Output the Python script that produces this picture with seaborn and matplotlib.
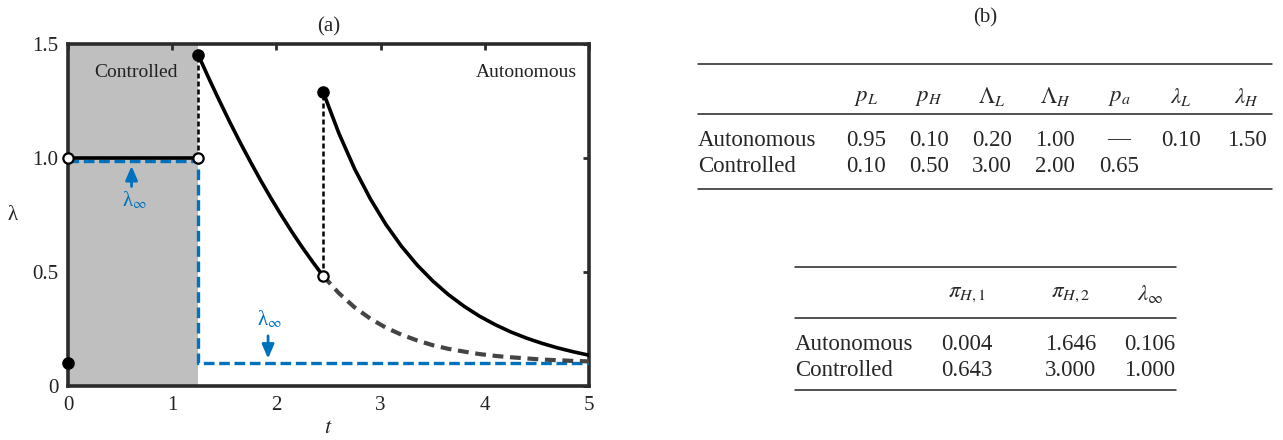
import matplotlib
matplotlib.use("Agg")
import matplotlib.pyplot as plt
import pandas as pd
import seaborn as sns

sns.set_theme(style="white")
plt.rcParams["font.family"] = ["Liberation Serif", "DejaVu Serif"]
plt.rcParams["mathtext.fontset"] = "stix"

# ---------------- data ----------------
t_switch = [1.25, 2.45]
t_ctrl = [0.0, 1.25]
lam_ctrl = [1.0, 1.0]
t_seg1 = [1.25, 1.35, 1.45, 1.55, 1.65, 1.75, 1.85, 1.95, 2.05, 2.15, 2.25, 2.35, 2.45]
lam_seg1 = [1.452, 1.351, 1.254, 1.160, 1.070, 0.984, 0.901, 0.822, 0.747, 0.675, 0.607, 0.543, 0.482]
t_seg2 = [2.45, 2.60, 2.75, 2.90, 3.05, 3.20, 3.35, 3.50, 3.65, 3.80, 3.95, 4.10, 4.25, 4.40, 4.55, 4.70, 4.85, 5.00]
lam_seg2 = [1.288, 1.108, 0.953, 0.822, 0.709, 0.613, 0.531, 0.461, 0.401, 0.350, 0.306, 0.269, 0.237, 0.210, 0.187, 0.167, 0.150, 0.135]
lam_cont = [0.482, 0.407, 0.345, 0.296, 0.256, 0.225, 0.200, 0.179, 0.163, 0.151, 0.140, 0.132, 0.126, 0.121, 0.116, 0.113, 0.110, 0.108]
t_inf = [0.0, 1.25, 1.25, 5.0]
lam_inf = [0.985, 0.985, 0.1, 0.1]
filled_t = [0.0, 1.25, 2.45]
filled_lam = [0.1, 1.452, 1.288]
open_t = [0.0, 1.25, 2.45]
open_lam = [1.0, 1.0, 0.482]
jump_lo = [1.0, 0.482]
jump_hi = [1.452, 1.288]

x_ticks = [0, 1, 2, 3, 4, 5]
y_ticks = [0, 0.5, 1.0, 1.5]
y_ticklabels = ["0", "0.5", "1.0", "1.5"]

tab1_cols = ["$p_L$", "$p_H$", r"$\Lambda_L$", r"$\Lambda_H$", "$p_a$", r"$\lambda_L$", r"$\lambda_H$"]
tab1_rows = ["Autonomous", "Controlled"]
tab1_vals = [["0.95", "0.10", "0.20", "1.00", "—", "0.10", "1.50"],
             ["0.10", "0.50", "3.00", "2.00", "0.65", "", ""]]
tab2_cols = [r"$\pi_{H,1}$", r"$\pi_{H,2}$", r"$\lambda_\infty$"]
tab2_rows = ["Autonomous", "Controlled"]
tab2_vals = [["0.004", "1.646", "0.106"],
             ["0.643", "3.000", "1.000"]]

BLUE = "#0072BD"
DARK = "#2b2b2b"

fig = plt.figure(figsize=(12.83, 4.40), dpi=100)
ax = fig.add_axes([68 / 1283, 54 / 440, 521 / 1283, 342 / 440])

ax.axvspan(t_ctrl[0], t_ctrl[1], color="#bfbfbf", lw=0, zorder=0)

def line(x, y, **kw):
    df = pd.DataFrame({"t": x, "lam": y})
    sns.lineplot(data=df, x="t", y="lam", ax=ax, sort=False, estimator=None, **kw)

# blue lambda_inf
line(t_inf, lam_inf, color=BLUE, lw=2.4, zorder=3)
ax.lines[-1].set_dashes([3.2, 1.4])
# dashed continuation
line(t_seg2, lam_cont, color="#444444", lw=3.0, zorder=3)
ax.lines[-1].set_dashes([2.6, 1.6])
# jump verticals
for ts, lo, hi in zip(t_switch, jump_lo, jump_hi):
    line([ts, ts], [lo, hi], color="black", lw=1.8, zorder=3)
    ax.lines[-1].set_dashes([2.0, 1.2])
# solid curves
line(t_ctrl, lam_ctrl, color="black", lw=2.6, zorder=4)
line(t_seg1, lam_seg1, color="black", lw=2.6, zorder=4)
line(t_seg2, lam_seg2, color="black", lw=2.6, zorder=4)

sns.scatterplot(x=filled_t, y=filled_lam, ax=ax, color="black", s=65, edgecolor="black",
                linewidth=1, zorder=6, clip_on=False)
sns.scatterplot(x=open_t, y=open_lam, ax=ax, color="white", s=55, edgecolor="black",
                linewidth=1.6, zorder=6, clip_on=False)

# arrows + labels
arrow = dict(arrowstyle="-|>,head_width=0.3,head_length=0.7", color=BLUE, lw=2.0,
             shrinkA=0, shrinkB=0)
ax.annotate("", xy=(0.61, 0.965), xytext=(0.61, 0.875), arrowprops=arrow)
ax.text(0.64, 0.815, "λ$_{\\infty}$", color=BLUE, fontsize=15, ha="center", va="center")
ax.annotate("", xy=(1.92, 0.12), xytext=(1.92, 0.22), arrowprops=arrow)
ax.text(1.93, 0.29, "λ$_{\\infty}$", color=BLUE, fontsize=15, ha="center", va="center")

ax.text(0.65, 1.375, "Controlled", fontsize=14, color="#222222", ha="center", va="center")
ax.text(4.88, 1.375, "Autonomous", fontsize=14, color="#222222", ha="right", va="center")

ax.set_xlim(0, 5)
ax.set_ylim(0, 1.5)
ax.set_xticks(x_ticks)
ax.set_xticklabels([str(v) for v in x_ticks])
ax.set_yticks(y_ticks)
ax.set_yticklabels(y_ticklabels)
ax.tick_params(direction="in", length=4, width=2, color=DARK, top=True, right=True,
               labelsize=15, pad=7, labelcolor="#222222")
for sp in ax.spines.values():
    sp.set_color(DARK)
    sp.set_linewidth(2.6)
    sp.set_visible(True)
ax.set_xlabel("$t$", fontsize=16, labelpad=3)
ax.set_ylabel("λ", fontsize=15, rotation=0, labelpad=14, va="center")
ax.set_title("(a)", fontsize=15, pad=9)

# ---------------- tables ----------------
tx = fig.add_axes([0, 0, 1, 1], zorder=-1)
tx.set_xlim(0, 1283)
tx.set_ylim(440, 0)
tx.axis("off")

FS = 16.5
tx.text(985, 18, "(b)", fontsize=15, ha="center", va="center")

# table 1
x0, x1 = 698, 1272
for yy in (64, 114, 189):
    tx.plot([x0, x1], [yy, yy], color="#222222", lw=1.1)
col_x1 = [866, 929, 992, 1055, 1119, 1181, 1247]
for cx, lab in zip(col_x1, tab1_cols):
    tx.text(cx, 97, lab, fontsize=FS, ha="center", va="center")
for ry, rl, vals in zip((140, 166), tab1_rows, tab1_vals):
    tx.text(x0, ry, rl, fontsize=FS, ha="left", va="center")
    for cx, v in zip(col_x1, vals):
        tx.text(cx, ry, v, fontsize=FS, ha="center", va="center")

# table 2
x0, x1 = 795, 1176
for yy in (267, 318, 390):
    tx.plot([x0, x1], [yy, yy], color="#222222", lw=1.1)
col_x2 = [967, 1071, 1150]
for cx, lab in zip(col_x2, tab2_cols):
    tx.text(cx, 294, lab, fontsize=FS, ha="center", va="center")
for ry, rl, vals in zip((344, 371), tab2_rows, tab2_vals):
    tx.text(x0, ry, rl, fontsize=FS, ha="left", va="center")
    for cx, v in zip(col_x2, vals):
        tx.text(cx, ry, v, fontsize=FS, ha="center", va="center")

fig.savefig("out.png", dpi=100)
